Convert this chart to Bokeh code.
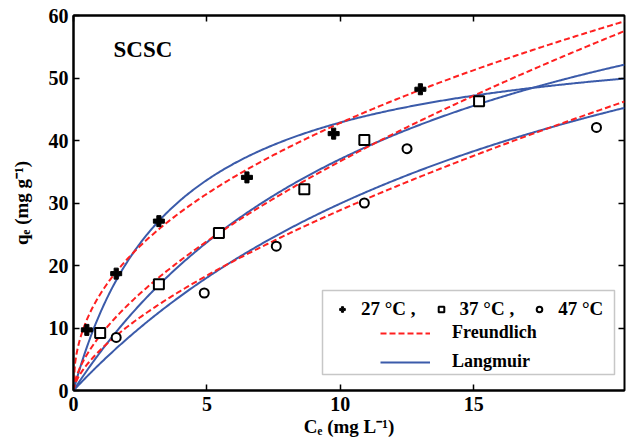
import numpy as np
from bokeh.plotting import figure
from bokeh.models import (Legend, LegendItem, LinearAxis, Label, BoxAnnotation,
                          FixedTicker, Range1d, CustomLabelingPolicy)
from bokeh.embed import file_html
from bokeh.resources import INLINE

ce_27 = [0.5, 1.6, 3.2, 6.5, 9.75, 13.0]
qe_27 = [9.7, 18.7, 27.1, 34.1, 41.1, 48.2]
ce_37 = [1.0, 3.2, 5.45, 8.65, 10.9, 15.2]
qe_37 = [9.2, 17.0, 25.2, 32.2, 40.1, 46.3]
ce_47 = [1.6, 4.9, 7.6, 10.9, 12.5, 19.6]
qe_47 = [8.5, 15.6, 23.1, 30.0, 38.7, 42.1]

# ---- fitted isotherm parameters (estimated from the drawn curves) ----
freundlich_kf = [15.4, 8.8, 6.46]
freundlich_inv_n = [0.444, 0.62, 0.65]
langmuir_qm = [59.0, 84.5, 87.1]
langmuir_kl = [0.266, 0.078, 0.0523]

x_ticks = [0, 5, 10, 15]
y_ticks = [0, 10, 20, 30, 40, 50, 60]
x_max = 20.65
y_max = 60

FONT = "Liberation Serif"
RED = "#FF2020"
BLUE = "#3B5BAA"

p = figure(width=628, height=439, output_backend="svg", toolbar_location=None,
           x_range=Range1d(0, x_max), y_range=Range1d(0, y_max),
           min_border_left=73, min_border_right=0, min_border_top=15,
           min_border_bottom=46, x_axis_location=None, y_axis_location=None)
p.xgrid.visible = False
p.ygrid.visible = False
p.outline_line_color = "black"
p.outline_line_width = 2
p.background_fill_color = "white"
p.border_fill_color = "white"

def style(ax, ticks, show_labels):
    ax.ticker = FixedTicker(ticks=ticks)
    ax.axis_line_width = 2
    ax.axis_line_color = "black"
    ax.major_tick_in = 6
    ax.major_tick_out = 0
    ax.major_tick_line_width = 1.5
    ax.minor_tick_in = 0
    ax.minor_tick_out = 0
    if show_labels:
        ax.major_label_text_font = FONT
        ax.major_label_text_font_style = "bold"
        ax.major_label_text_font_size = "20px"
        ax.major_label_text_color = "black"
        ax.axis_label_text_font = FONT
        ax.axis_label_text_font_style = "bold"
        ax.axis_label_text_font_size = "19px"
        ax.axis_label_text_color = "black"
    else:
        ax.major_label_policy = CustomLabelingPolicy(code="return []")
        ax.major_label_text_font_size = "1px"
        ax.major_label_standoff = 0

bottom = LinearAxis(axis_label="Cₑ (mg L⁻¹)")
style(bottom, x_ticks, True)
bottom.major_label_standoff = 6
bottom.axis_label_standoff = 2
p.add_layout(bottom, "below")

left = LinearAxis(axis_label="qₑ (mg g⁻¹)")
style(left, y_ticks, True)
left.major_label_standoff = 5
left.axis_label_standoff = 14
p.add_layout(left, "left")

top = LinearAxis()
style(top, x_ticks, False)
p.add_layout(top, "above")

right = LinearAxis()
style(right, y_ticks[1:-1], False)
right.axis_line_color = None
p.add_layout(right, "right")

# ---- model curves ----
c_grid = np.linspace(0, x_max, 400)
f_renderers = []
l_renderers = []
for kf, inv_n, qm, kl in zip(freundlich_kf, freundlich_inv_n, langmuir_qm, langmuir_kl):
    q_f = kf * c_grid ** inv_n
    q_l = qm * kl * c_grid / (1 + kl * c_grid)
    l_renderers.append(p.line(c_grid, q_l, line_color=BLUE, line_width=2))
    f_renderers.append(p.line(c_grid, q_f, line_color=RED, line_width=2,
                              line_dash="6 3"))

# ---- data points ----
r27 = p.scatter(ce_27, qe_27, marker="plus", size=11, fill_color="black",
                line_color="black", line_width=1)
r37 = p.scatter(ce_37, qe_37, marker="square", size=10, fill_color="white",
                line_color="black", line_width=2)
r47 = p.scatter(ce_47, qe_47, marker="circle", size=9, fill_color="white",
                line_color="black", line_width=2)

# ---- title label ----
p.add_layout(Label(x=1.5, y=52.6, text="SCSC", text_font=FONT,
                   text_font_style="bold", text_font_size="23px",
                   text_color="black"))

# ---- legend ----
box = BoxAnnotation(left=249, right=541, bottom=16, top=100,
                    left_units="screen", right_units="screen",
                    bottom_units="screen", top_units="screen",
                    fill_color="white", fill_alpha=1.0,
                    line_color="#444444", line_width=1.5)
p.add_layout(box)

legA = Legend(items=[LegendItem(label="27 °C ,", renderers=[r27]),
                     LegendItem(label="37 °C ,", renderers=[r37]),
                     LegendItem(label="47 °C", renderers=[r47])],
              orientation="horizontal", location=(262, 70))
legB = Legend(items=[LegendItem(label="Freundlich", renderers=[f_renderers[0]]),
                     LegendItem(label="Langmuir", renderers=[l_renderers[0]])],
              orientation="vertical", location=(307, 18))
for lg, gw in ((legA, 14), (legB, 50)):
    lg.label_text_font = FONT
    lg.label_text_font_style = "bold"
    lg.label_text_color = "black"
    lg.glyph_width = gw
    lg.glyph_height = 18
    lg.label_height = 18
    lg.padding = 0
    lg.margin = 0
    lg.border_line_color = None
    lg.background_fill_alpha = 0
legA.label_text_font_size = "19px"
legB.label_text_font_size = "18px"
legA.label_standoff = 12
legA.spacing = 18
legB.label_standoff = 22
legB.spacing = 8
p.add_layout(legA)
p.add_layout(legB)

open("out.html", "w").write(file_html(p, INLINE))
